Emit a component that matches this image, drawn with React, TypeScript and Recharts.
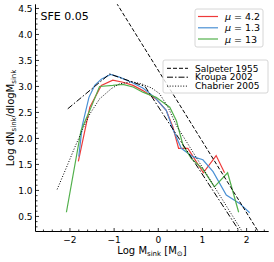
import { LineChart, Line, XAxis, YAxis } from 'recharts'

// simulation IMFs
const redX = [-1.81, -1.55, -1.29, -1.03, -0.8, -0.57, -0.35, -0.05, 0.18, 0.33, 0.46, 0.67, 1.02, 1.31, 1.5]
const redY = [1.56, 2.6, 3.02, 3.12, 3.08, 3.02, 2.92, 2.76, 2.54, 2.22, 1.81, 1.81, 1.34, 1.67, 1.34]
const blueX = [-1.8, -1.72, -1.57, -1.44, -1.29, -1.08, -0.88, -0.61, -0.35, -0.08, 0.18, 0.33, 0.52, 0.78, 1.01, 1.24, 1.54, 1.84, 2.07]
const blueY = [1.65, 2.25, 2.79, 3.02, 3.14, 3.23, 3.18, 3.08, 2.97, 2.79, 2.54, 2.18, 1.81, 1.65, 1.59, 1.36, 0.91, 0.75, 0.57]
const greenX = [-2.08, -1.75, -1.55, -1.33, -1.03, -0.8, -0.57, -0.35, -0.05, 0.26, 0.41, 0.56, 0.75, 1.01, 1.27, 1.57, 1.82]
const greenY = [0.58, 2.15, 2.54, 3.0, 3.02, 3.04, 2.99, 2.89, 2.79, 2.6, 2.34, 1.87, 1.61, 1.41, 1.07, 1.34, 0.58]

// reference IMFs
const salpeterX = [-0.95, 2.27]
const salpeterY = [4.61, 0.2]
const kroupaX = [-2.05, -1.1, -0.3, 1.85]
const kroupaY = [2.57, 3.24, 3.0, 0.2]
const chabrierX = [-2.29, -2.08, -1.89, -1.71, -1.55, -1.33, -1.06, -0.88, -0.6, -0.38, -0.15, 0.03, 0.22, 0.41, 1.9]
const chabrierY = [1.02, 1.44, 1.83, 2.18, 2.47, 2.76, 2.96, 3.05, 3.09, 3.05, 2.97, 2.86, 2.6, 2.25, 0.21]

const xMajor = [-2, -1, 0, 1, 2]
const yMajor = [0.5, 1.0, 1.5, 2.0, 2.5, 3.0, 3.5, 4.0, 4.5]
const X_DOMAIN: [number, number] = [-2.78, 2.5]
const Y_DOMAIN: [number, number] = [0.21, 4.58]

const zip = (xs: number[], ys: number[]) => xs.map((x, i) => ({ x, y: ys[i] }))

const steps = (lo: number, hi: number, step: number) => {
  const out: number[] = []
  for (let v = Math.ceil(lo / step - 1e-6); v * step <= hi + 1e-9; v++) out.push(Math.round(v * step * 100) / 100)
  return out
}
const xTicks = steps(X_DOMAIN[0], X_DOMAIN[1], 0.2)
const yTicks = steps(Y_DOMAIN[0], Y_DOMAIN[1], 0.1)
const isMajor = (v: number, list: number[]) => list.some((m) => Math.abs(m - v) < 1e-6)

const FONT = 'DejaVu Sans'
const fmtX = (v: number) => (v < 0 ? '\u2212' + Math.abs(v) : String(v))

const tickFactory = (side: 'left' | 'right' | 'bottom' | 'top') => (props: any) => {
  const { x, y, payload } = props
  const v = payload.value
  const major = side === 'left' || side === 'right' ? isMajor(v, yMajor) : isMajor(v, xMajor)
  const len = major ? 3.5 : 2
  if (side === 'left')
    return (
      <g>
        <line x1={x} x2={x + len} y1={y} y2={y} stroke="#000" strokeWidth={0.8} />
        {major && (
          <text x={x - 3} y={y + 3.3} textAnchor="end" fontSize={9} fontFamily={FONT} fill="#000">
            {v.toFixed(1)}
          </text>
        )}
      </g>
    )
  if (side === 'right') return <line x1={x} x2={x - len} y1={y} y2={y} stroke="#000" strokeWidth={0.8} />
  if (side === 'top') return <line x1={x} x2={x} y1={y} y2={y + len} stroke="#000" strokeWidth={0.8} />
  return (
    <g>
      <line x1={x} x2={x} y1={y} y2={y - len} stroke="#000" strokeWidth={0.8} />
      {major && (
        <text x={x} y={y + 11} textAnchor="middle" fontSize={9} fontFamily={FONT} fill="#000">
          {fmtX(v)}
        </text>
      )}
    </g>
  )
}

const RED = '#ee3a3a'
const BLUE = '#4a90d4'
const GREEN = '#52b04c'

export default function App() {
  return (
    <div style={{ position: 'absolute', left: 0, top: 0, width: 274, height: 262, background: '#fff' }}>
      <LineChart width={274} height={262} margin={{ top: 4.3, right: 5.3, left: 0, bottom: 0 }}>
        <XAxis
          type="number"
          dataKey="x"
          domain={X_DOMAIN}
          allowDataOverflow
          ticks={xTicks}
          interval={0}
          tickSize={0}
          tickMargin={0}
          tick={tickFactory('bottom')}
          height={30.5}
          stroke="#000"
        />
        <XAxis
          xAxisId="top"
          orientation="top"
          type="number"
          dataKey="x"
          domain={X_DOMAIN}
          allowDataOverflow
          ticks={xTicks}
          interval={0}
          tickSize={0}
          tickMargin={0}
          tick={tickFactory('top')}
          height={0}
          stroke="#000"
        />
        <YAxis
          type="number"
          dataKey="y"
          domain={Y_DOMAIN}
          allowDataOverflow
          ticks={yTicks}
          interval={0}
          tickSize={0}
          tickMargin={0}
          tick={tickFactory('left')}
          width={35.5}
          stroke="#000"
        />
        <YAxis
          yAxisId="right"
          orientation="right"
          type="number"
          dataKey="y"
          domain={Y_DOMAIN}
          allowDataOverflow
          ticks={yTicks}
          interval={0}
          tickSize={0}
          tickMargin={0}
          tick={tickFactory('right')}
          width={0}
          stroke="#000"
        />
        <Line data={zip(redX, redY)} dataKey="y" stroke={RED} strokeWidth={1.2} dot={false} isAnimationActive={false} />
        <Line data={zip(blueX, blueY)} dataKey="y" stroke={BLUE} strokeWidth={1.2} dot={false} isAnimationActive={false} />
        <Line data={zip(greenX, greenY)} dataKey="y" stroke={GREEN} strokeWidth={1.2} dot={false} isAnimationActive={false} />
        <Line data={zip(salpeterX, salpeterY)} dataKey="y" stroke="#000" strokeWidth={1} strokeDasharray="4 2" dot={false} isAnimationActive={false} />
        <Line data={zip(kroupaX, kroupaY)} dataKey="y" stroke="#000" strokeWidth={1} strokeDasharray="6 2 1.5 2" dot={false} isAnimationActive={false} />
        <Line data={zip(chabrierX, chabrierY)} dataKey="y" stroke="#000" strokeWidth={1} strokeDasharray="1 1.7" dot={false} isAnimationActive={false} />
      </LineChart>
      <svg width={274} height={262} style={{ position: 'absolute', left: 0, top: 0, pointerEvents: 'none' }} fontFamily={FONT}>
        <text x={40.5} y={20.3} fontSize={11} fill="#000">SFE 0.05</text>
        <rect x={195} y={9} width={68} height={38} rx={2} fill="#fff" fillOpacity={0.8} stroke="#ccc" strokeWidth={0.8} />
        <line x1={198} x2={218} y1={16.5} y2={16.5} stroke={RED} strokeWidth={1.2} />
        <line x1={198} x2={218} y1={27.8} y2={27.8} stroke={BLUE} strokeWidth={1.2} />
        <line x1={198} x2={218} y1={39} y2={39} stroke={GREEN} strokeWidth={1.2} />
        <text x={225} y={20} fontSize={9.5}><tspan fontStyle="italic">μ</tspan> = 4.2</text>
        <text x={225} y={31.3} fontSize={9.5}><tspan fontStyle="italic">μ</tspan> = 1.3</text>
        <text x={225} y={42.5} fontSize={9.5}><tspan fontStyle="italic">μ</tspan> = 13</text>
        <rect x={163} y={60} width={105} height={33} rx={2} fill="#fff" fillOpacity={0.8} stroke="#ccc" strokeWidth={0.8} />
        <line x1={167} x2={188} y1={68.3} y2={68.3} stroke="#000" strokeWidth={1} strokeDasharray="4 2" />
        <line x1={167} x2={188} y1={77.2} y2={77.2} stroke="#000" strokeWidth={1} strokeDasharray="6 2 1.5 2" />
        <line x1={167} x2={188} y1={86.1} y2={86.1} stroke="#000" strokeWidth={1} strokeDasharray="1 1.7" />
        <text x={195} y={71.5} fontSize={9}>Salpeter 1955</text>
        <text x={195} y={80.4} fontSize={9}>Kroupa 2002</text>
        <text x={195} y={89.3} fontSize={9}>Chabrier 2005</text>
        <text x={152} y={254} fontSize={10} textAnchor="middle">
          Log M<tspan fontSize={7} dy={2}>sink</tspan>
          <tspan dy={-2}> [M</tspan>
          <tspan fontSize={7} dy={2}>⊙</tspan>
          <tspan dy={-2}>]</tspan>
        </text>
        <text transform="translate(13.5,118) rotate(-90)" fontSize={10} textAnchor="middle">
          Log dN<tspan fontSize={7} dy={2}>sink</tspan>
          <tspan dy={-2}>/dlogM</tspan>
          <tspan fontSize={7} dy={2}>sink</tspan>
        </text>
      </svg>
    </div>
  )
}
